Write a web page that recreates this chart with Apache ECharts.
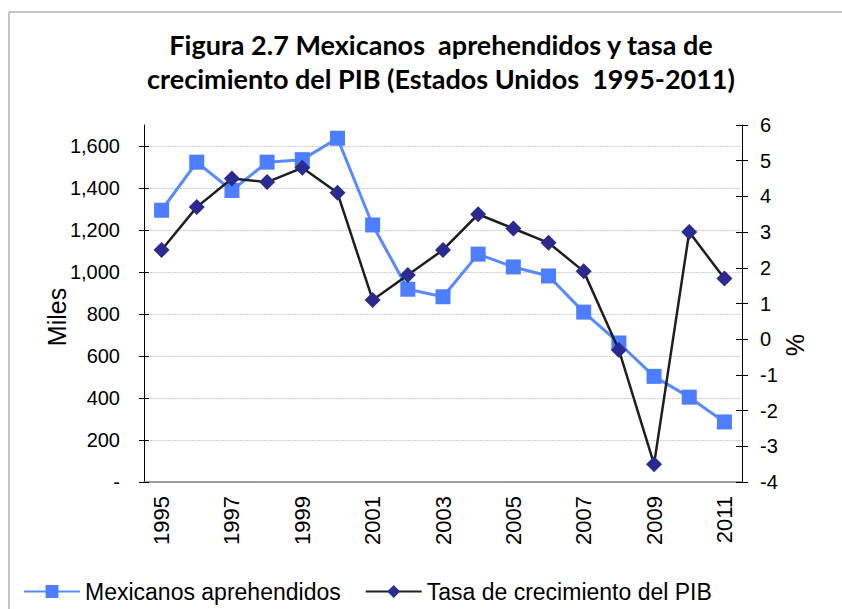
<!DOCTYPE html>
<html>
<head>
<meta charset="utf-8">
<script src="https://cdn.jsdelivr.net/npm/echarts@6/dist/echarts.min.js"></script>
<style>
  html, body { margin: 0; padding: 0; background: #fff; }
  #chart { width: 842px; height: 609px; }
</style>
</head>
<body>
<div id="chart"></div>
<script>
// años del eje X
const years = ['1995', '1996', '1997', '1998', '1999', '2000', '2001', '2002', '2003',
  '2004', '2005', '2006', '2007', '2008', '2009', '2010', '2011'];

// Mexicanos aprehendidos (miles)
const aprehendidos = [1294, 1523, 1388, 1523, 1535, 1637, 1224, 918, 882,
  1085, 1024, 981, 809, 662, 503, 404, 286];

// Tasa de crecimiento del PIB (%)
const pib = [2.5, 3.7, 4.5, 4.4, 4.8, 4.1, 1.1, 1.8, 2.5,
  3.5, 3.1, 2.7, 1.9, -0.3, -3.5, 3.0, 1.7];

const leftTicks = [0, 200, 400, 600, 800, 1000, 1200, 1400, 1600];
const titleLines = ['Figura 2.7 Mexicanos  aprehendidos y tasa de',
  'crecimiento del PIB (Estados Unidos  1995-2011)'];
const seriesNames = ['Mexicanos aprehendidos', 'Tasa de crecimiento del PIB'];

const FONT = '"Liberation Sans", Arial, sans-serif';
const chart = echarts.init(document.getElementById('chart'), null, { renderer: 'svg' });

const fmtLeft = v => (v === 0 ? '-' : v.toLocaleString('en-US'));

const option = {
  animation: false,
  backgroundColor: '#fff',
  graphic: [
    {
      type: 'rect',
      shape: { x: 9, y: 12, width: 900, height: 700 },
      style: { fill: 'none', stroke: '#8c8c8c', lineWidth: 1 },
      silent: true
    },
    {
      type: 'text',
      x: 441,
      y: 61,
      style: {
        text: titleLines.join('\n'),
        align: 'center',
        verticalAlign: 'middle',
        fontFamily: 'Lato, "Open Sans", sans-serif',
        fontWeight: 'bold',
        fontSize: 27,
        lineHeight: 34,
        fill: '#000'
      }
    },
    {
      // títulos de los ejes (Excel los coloca algo por debajo del centro)
      type: 'text',
      x: 57,
      y: 317,
      rotation: Math.PI / 2,
      style: {
        text: 'Miles',
        align: 'center',
        verticalAlign: 'middle',
        fontFamily: FONT,
        fontSize: 25,
        fill: '#000'
      }
    },
    {
      type: 'text',
      x: 795,
      y: 345,
      rotation: -Math.PI / 2,
      style: {
        text: '%',
        align: 'center',
        verticalAlign: 'middle',
        fontFamily: FONT,
        fontSize: 25,
        fill: '#000'
      }
    }
  ],
  legend: {
    data: seriesNames,
    left: 18,
    top: 575,
    itemWidth: 56,
    itemHeight: 16,
    itemGap: 24,
    textStyle: { fontFamily: FONT, fontSize: 23, color: '#000' }
  },
  grid: { left: 144, right: 100, top: 125, bottom: 127, containLabel: false },
  xAxis: [
    {
      type: 'category',
      data: years,
      boundaryGap: true,
      axisLine: { onZero: false, lineStyle: { color: '#7f7f7f', width: 1.5 } },
      axisTick: { interval: 0, length: 7, lineStyle: { color: '#555' } },
      axisLabel: {
        interval: 1,
        rotate: 90,
        margin: 14,
        fontFamily: FONT,
        fontSize: 22,
        color: '#000'
      },
      splitLine: { show: false }
    },
    {
      // ticks hacia dentro (marcas que cruzan el eje)
      type: 'category',
      data: years,
      position: 'bottom',
      boundaryGap: true,
      axisLine: { show: false, onZero: false },
      axisTick: { inside: true, interval: 0, length: 7, lineStyle: { color: '#555' } },
      axisLabel: { show: false },
      splitLine: { show: false }
    }
  ],
  yAxis: [
    {
      type: 'value',
      min: 0,
      max: 1700,
      interval: 200,
      position: 'left',
      axisLine: { show: true, onZero: false, lineStyle: { color: '#000', width: 1 } },
      axisTick: { show: true, length: 5, customValues: leftTicks, lineStyle: { color: '#000' } },
      axisLabel: {
        customValues: leftTicks,
        margin: 24,
        fontFamily: FONT,
        fontSize: 20,
        color: '#000',
        formatter: fmtLeft
      },
      splitLine: {
        show: true,
        showMinLine: false,
        lineStyle: { color: '#cdcdcd', type: [2, 1], width: 1 }
      }
    },
    {
      type: 'value',
      min: -4,
      max: 6,
      interval: 1,
      position: 'right',
      axisLine: { show: true, onZero: false, lineStyle: { color: '#000', width: 1 } },
      axisTick: { show: true, length: 6, lineStyle: { color: '#000' } },
      axisLabel: { margin: 18, fontFamily: FONT, fontSize: 20, color: '#000' },
      splitLine: { show: false }
    },
    {
      type: 'value',
      min: 0,
      max: 1700,
      interval: 200,
      position: 'left',
      axisLine: { show: false, onZero: false },
      axisTick: { show: true, inside: true, length: 5, customValues: leftTicks, lineStyle: { color: '#000' } },
      axisLabel: { show: false },
      splitLine: { show: false }
    },
    {
      type: 'value',
      min: -4,
      max: 6,
      interval: 1,
      position: 'right',
      axisLine: { show: false, onZero: false },
      axisTick: { show: true, inside: true, length: 6, lineStyle: { color: '#000' } },
      axisLabel: { show: false },
      splitLine: { show: false }
    }
  ],
  series: [
    {
      name: seriesNames[0],
      type: 'line',
      xAxisIndex: 0,
      yAxisIndex: 0,
      data: aprehendidos,
      symbol: 'rect',
      symbolSize: 15,
      itemStyle: { color: '#4d7eff' },
      lineStyle: { color: '#5a8aff', width: 3 },
      z: 2
    },
    {
      name: seriesNames[1],
      type: 'line',
      xAxisIndex: 0,
      yAxisIndex: 1,
      data: pib,
      symbol: 'diamond',
      symbolSize: 16,
      itemStyle: { color: '#2a2a8f' },
      lineStyle: { color: '#1f1f1f', width: 2.5 },
      z: 3
    }
  ]
};

chart.setOption(option);
</script>
</body>
</html>
